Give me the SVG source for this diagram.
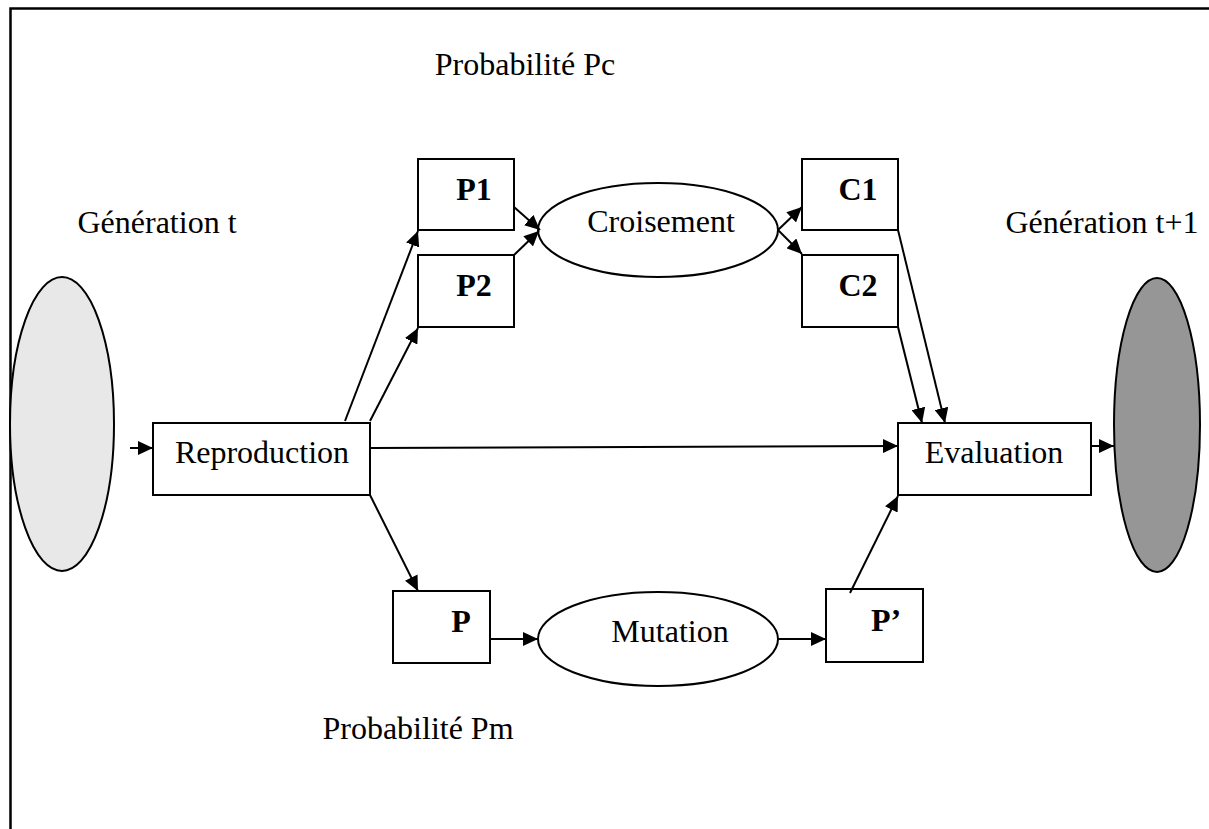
<svg xmlns="http://www.w3.org/2000/svg" width="1209" height="829" viewBox="0 0 1209 829">
<style>
.box{fill:#fff;stroke:#000;stroke-width:2}
.ell{stroke:#000;stroke-width:2}
.t{font-family:"Liberation Serif","Times New Roman",serif;font-size:32px;fill:#000;text-anchor:middle}
.b{font-weight:bold}
.c{fill:none;stroke:#000;stroke-width:2;marker-end:url(#ah)}
</style>
<defs>
<marker id="ah" markerUnits="userSpaceOnUse" markerWidth="16" markerHeight="14" refX="15" refY="7" orient="auto">
<path d="M0,0 L15,7 L0,14 Z" fill="#000"/>
</marker>
</defs>
<rect width="1209" height="829" fill="#fff"/>
<path d="M10.5,829 L10.5,8.5 L1209,8.5" fill="none" stroke="#000" stroke-width="2.5"/>
<text class="t" x="525" y="75">Probabilité Pc</text>
<text class="t" x="157" y="233">Génération t</text>
<text class="t" x="1102" y="233">Génération t+1</text>
<text class="t" x="418" y="739">Probabilité Pm</text>
<g id="gen-t"><ellipse class="ell" cx="62" cy="424" rx="52" ry="147" fill="#e8e8e8"/></g>
<g id="gen-t1"><ellipse class="ell" cx="1157" cy="425" rx="43" ry="147" fill="#969696"/></g>
<g id="reproduction"><rect class="box" x="153" y="423" width="217" height="72"/><text class="t" x="262" y="463">Reproduction</text></g>
<g id="p1"><rect class="box" x="418" y="159" width="96" height="71"/><text class="t b" x="474" y="200">P1</text></g>
<g id="p2"><rect class="box" x="418" y="255" width="96" height="72"/><text class="t b" x="474" y="296">P2</text></g>
<g id="croisement"><ellipse class="ell" cx="658" cy="230" rx="120" ry="47" fill="#fff"/><text class="t" x="661" y="232">Croisement</text></g>
<g id="c1"><rect class="box" x="802" y="159" width="96" height="71"/><text class="t b" x="858" y="200">C1</text></g>
<g id="c2"><rect class="box" x="802" y="255" width="96" height="72"/><text class="t b" x="858" y="296">C2</text></g>
<g id="evaluation"><rect class="box" x="898" y="423" width="193" height="72"/><text class="t" x="994" y="463">Evaluation</text></g>
<g id="p"><rect class="box" x="393" y="591" width="97" height="72"/><text class="t b" x="461" y="632">P</text></g>
<g id="mutation"><ellipse class="ell" cx="658" cy="639" rx="120" ry="47" fill="#fff"/><text class="t" x="670" y="642">Mutation</text></g>
<g id="pprime"><rect class="box" x="826" y="589" width="97" height="73"/><text class="t b" x="886" y="631">P’</text></g>
<g id="connectors">
<path class="c" d="M130,448 L153,448"/>
<path class="c" d="M345,421 L418,231"/>
<path class="c" d="M370,421 L418,328"/>
<path class="c" d="M370,448 L898,446"/>
<path class="c" d="M370,495 L418,591"/>
<path class="c" d="M514,207 L540,230"/>
<path class="c" d="M514,255 L539,231"/>
<path class="c" d="M778,230 L802,207"/>
<path class="c" d="M778,230 L802,254"/>
<path class="c" d="M898,230 L945,423"/>
<path class="c" d="M898,327 L922,423"/>
<path class="c" d="M1091,446 L1114,446"/>
<path class="c" d="M490,639 L538,639"/>
<path class="c" d="M778,639 L826,639"/>
<path class="c" d="M850,593 L898,496"/>
</g>
</svg>
